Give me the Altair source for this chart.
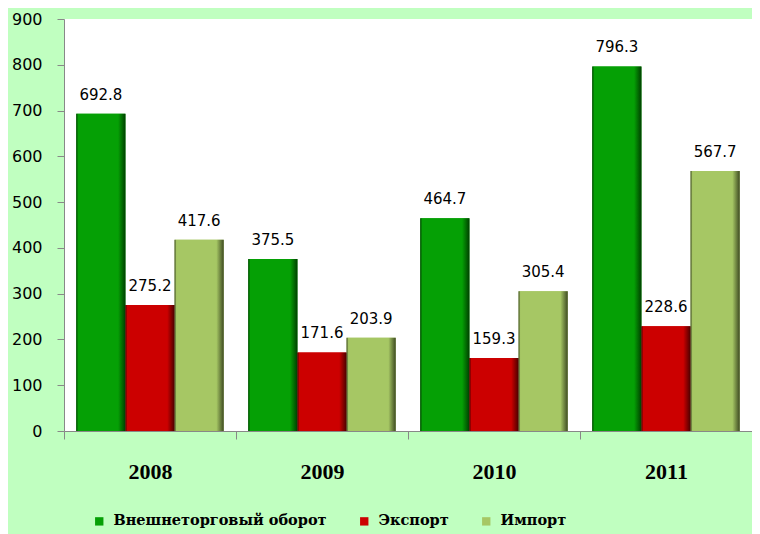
import altair as alt
import pandas as pd

years = ["2008", "2009", "2010", "2011"]
series = ["Внешнеторговый оборот", "Экспорт", "Импорт"]
turnover = [692.8, 375.5, 464.7, 796.3]
export = [275.2, 171.6, 159.3, 228.6]
imports = [417.6, 203.9, 305.4, 567.7]
colors = ["#05A005", "#CC0000", "#A6C764"]
edges = ["#003F00", "#4A0000", "#3E4A22"]

rows = []
for i, y in enumerate(years):
    for s, vals in zip(series, [turnover, export, imports]):
        rows.append({"year": y, "series": s, "value": vals[i],
                     "label": f"{vals[i]:.1f}"})
df = pd.DataFrame(rows)

x = alt.X("year:N", title=None, sort=years,
          scale=alt.Scale(paddingInner=0, paddingOuter=0),
          axis=alt.Axis(labelAngle=0, tickBand="extent", tickSize=8,
                        tickColor="#888888", domainColor="#888888",
                        labelFont="Liberation Serif", labelFontSize=22,
                        labelFontWeight="bold", labelColor="#000000",
                        labelPadding=22))
xo = alt.XOffset("series:N", sort=series,
                 scale=alt.Scale(domain=series, paddingInner=0, paddingOuter=0.25))
y = alt.Y("value:Q", title=None,
          scale=alt.Scale(domain=[0, 900], nice=False),
          axis=alt.Axis(values=list(range(0, 901, 100)), grid=False,
                        tickSize=7, tickColor="#888888", domainColor="#888888",
                        labelFont="DejaVu Sans", labelFontSize=16,
                        labelColor="#000000", labelPadding=15))

base = alt.Chart(df)

bars = base.mark_bar().encode(
    x=x, xOffset=xo, y=y,
    color=alt.Color("series:N", sort=series,
                    scale=alt.Scale(domain=series, range=colors),
                    legend=alt.Legend(title=None, orient="none",
                                      direction="horizontal",
                                      legendX=28, legendY=495,
                                      symbolType="square", symbolSize=70,
                                      symbolStrokeWidth=0, labelLimit=0,
                                      labelFont="DejaVu Serif",
                                      labelFontSize=14.5, labelFontWeight="bold",
                                      labelColor="#000000", labelOffset=7,
                                      columnPadding=30)),
)

overlays = []
for s, c, e in zip(series, colors, edges):
    grad = alt.Gradient(gradient="linear", x1=0, x2=1, y1=0, y2=0, stops=[
        alt.GradientStop(offset=0, color=e),
        alt.GradientStop(offset=0.04, color=c),
        alt.GradientStop(offset=0.85, color=c),
        alt.GradientStop(offset=1, color=e),
    ])
    overlays.append(
        base.transform_filter(alt.datum.series == s)
        .mark_bar(fill=grad)
        .encode(x=x, xOffset=xo, y=y)
    )

labels = base.mark_text(font="DejaVu Sans", fontSize=15, baseline="alphabetic",
                        dy=-14, color="#000000").encode(
    x=x, xOffset=xo, y=y, text="label:N")

chart = alt.layer(bars, *overlays, labels).properties(
    width=688, height=412,
    background="#C0FFC0",
    autosize=alt.AutoSizeParams(type="none"),
    padding={"left": 56, "top": 11, "right": 0, "bottom": 103},
).configure_view(fill="#FFFFFF", stroke=None)

chart.save("out.html", embed_options={"renderer": "svg", "actions": False})
